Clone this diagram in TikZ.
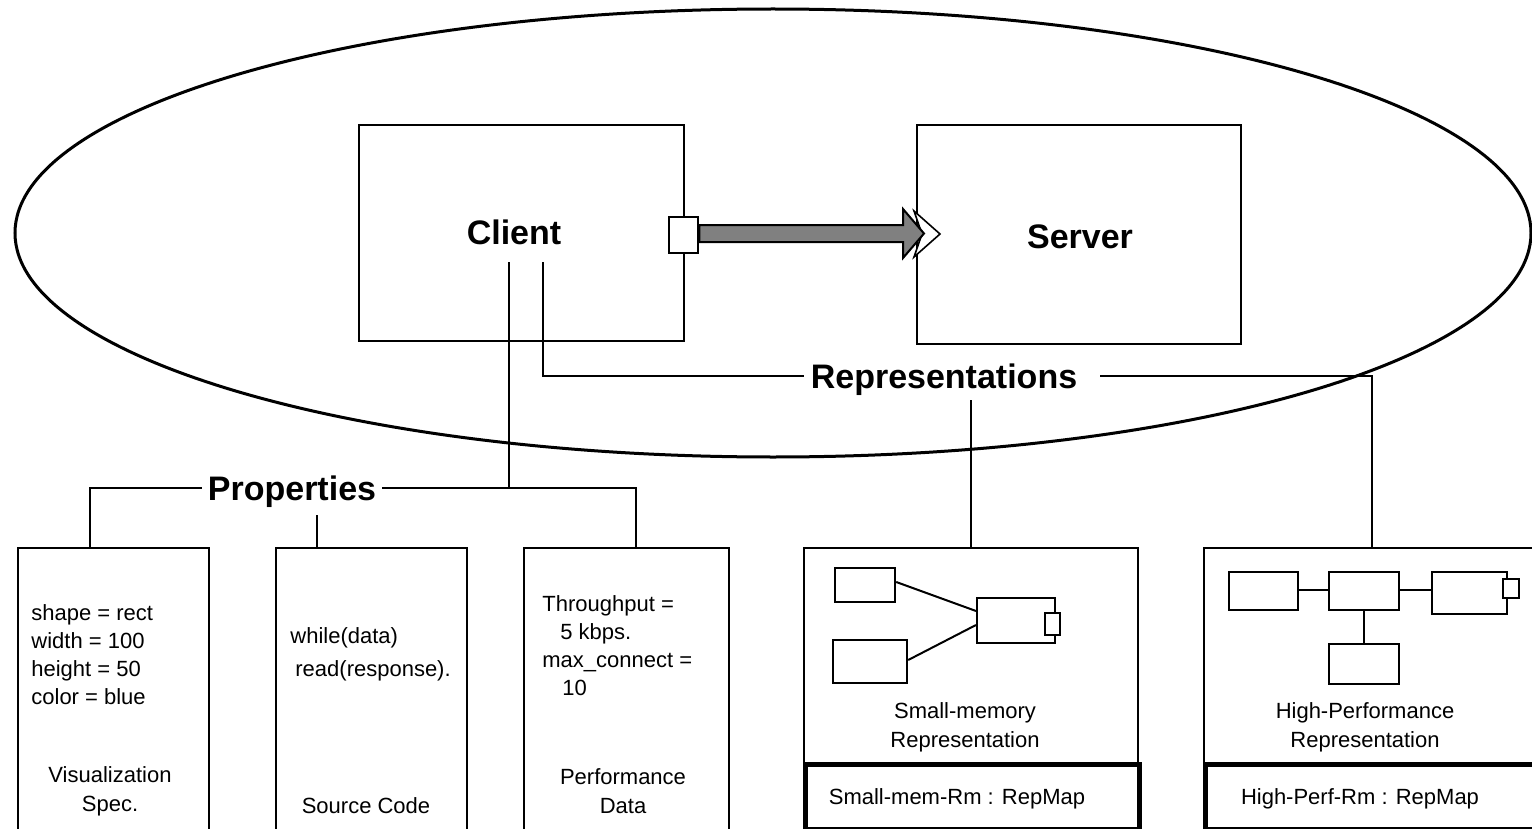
\documentclass[tikz,border=0pt]{standalone}
\usepackage{fontspec}
\setmainfont{Liberation Sans}
\begin{document}
\begin{tikzpicture}[x=0.5pt,y=-0.5pt,
  box/.style={draw,line width=1.2pt,inner sep=0pt,anchor=north west},
  mapbox/.style={draw,line width=2.4pt,inner sep=0pt,anchor=north west},
  mini/.style={draw,line width=1.1pt,inner sep=0pt,anchor=north west},
  wire/.style={line width=1pt},
  big/.style={font=\fontsize{17}{20}\selectfont\bfseries,inner sep=3pt},
  props/.style={font=\fontsize{11}{14}\selectfont,align=left,inner sep=0pt,anchor=north west},
  caption/.style={font=\fontsize{11}{14.5}\selectfont,align=center,inner sep=0pt}]
\useasboundingbox (0,0) rectangle (1532,829);
\clip (0,0) rectangle (1532,829);

% system boundary
\draw[line width=1.5pt] (773,233) ellipse [x radius=758, y radius=224];

% client and server components
\node[box,minimum width=162.5pt,minimum height=108pt] (clientbox) at (358,124) {};
\node[box,minimum width=162pt,minimum height=109.5pt] (serverbox) at (916,124) {};
\node[big] (client) at (514,232) {Client};
\node[big] (server) at (1080,237) {Server};

% connector from the client port to the server
\node[box,fill=white,minimum width=14.5pt,minimum height=18pt] (port) at (668,216) {};
\coordinate (chevtip) at (940,234);
\draw[line width=0.8pt,fill=white] (914,211) -- (chevtip) -- (914,257) -- (922,234) -- cycle;
\draw[line width=1pt,fill=gray] (port.east |- 0,225) -- (903,225) -- (903,209) -- (924,233.5)
  -- (903,258) -- (903,242) -- (port.east |- 0,242) -- cycle;

% property and representation labels
\node[big] (propl) at (292,492) {Properties};
\node[big,inner xsep=3pt] (repl) at (944,380) {Representations};
\coordinate (replend) at (1100,376);

\coordinate (cl1) at (509,262);
\coordinate (cl2) at (543,262);

% property boxes
\node[box,minimum width=95.5pt,minimum height=150pt] (vis) at (17,547) {};
\node[box,minimum width=95.5pt,minimum height=150pt] (src) at (275,547) {};
\node[box,minimum width=102.5pt,minimum height=150pt] (perf) at (523,547) {};

% representation boxes
\node[box,minimum width=167pt,minimum height=150pt] (smem) at (803,547) {};
\node[box,minimum width=171pt,minimum height=150pt] (hperf) at (1203,547) {};
\node[mapbox,minimum width=167pt,minimum height=32.5pt] (smap) at (803,762) {};
\node[mapbox,minimum width=171pt,minimum height=32.5pt] (hmap) at (1203,762) {};

% property bracket
\draw[wire] (cl1) -- (509,488);
\draw[wire] (vis.north west -| 90,0) -- (90,488) -- (propl.west |- 0,488);
\draw[wire] (propl.east |- 0,488) -- (636,488) -- (perf.north west -| 636,0);
\draw[wire] (317,515) -- (src.north west -| 317,0);

% representation bracket
\draw[wire] (cl2) -- (543,376) -- (repl.west |- 0,376);
\draw[wire] (replend) -- (1372,376) -- (hperf.north west -| 1372,0);
\draw[wire] (971,400) -- (smem.north west -| 971,0);

% property texts
\node[props] (vistxt) at (31,604) {shape = rect\\width = 100\\height = 50\\color = blue};
\node[caption] (viscap) at (110,791) {Visualization\\Spec.};
\node[props] (srctxt1) at (290,627) {while(data)};
\node[props] (srctxt2) at (295,660) {read(response).};
\node[caption] (srccap) at (366,806) {Source Code};
\node[props] (perftxt) at (542,595) {Throughput =\\\hspace*{9pt}5 kbps.\\max\_connect =\\\hspace*{10pt}10};
\node[caption] (perfcap) at (623,791) {Performance\\Data};

% small-memory representation
\node[mini,minimum width=30pt,minimum height=17pt] (m1) at (834,567) {};
\node[mini,minimum width=37pt,minimum height=21.5pt] (m2) at (832,639) {};
\node[mini,minimum width=39pt,minimum height=22.5pt] (m3) at (976,597) {};
\node[mini,fill=white,minimum width=7.5pt,minimum height=11pt] (m3p) at (1044,612) {};
\draw[wire] (m1.east |- 0,582) -- (m3.west |- 0,611);
\draw[wire] (m2.east |- 0,660) -- (m3.west |- 0,625);
\node[caption] (smemcap) at (965,727) {Small-memory\\Representation};
\node[caption] (smapcap) at (957,799) {Small-mem-Rm : RepMap};

% high-performance representation
\node[mini,minimum width=34.5pt,minimum height=19pt] (h1) at (1228,571) {};
\node[mini,minimum width=35pt,minimum height=19pt] (h2) at (1328,571) {};
\node[mini,minimum width=37.5pt,minimum height=21pt] (h3) at (1431,571) {};
\node[mini,fill=white,minimum width=8pt,minimum height=9.5pt] (h3p) at (1502,578) {};
\node[mini,minimum width=35pt,minimum height=20pt] (h4) at (1328,643) {};
\draw[wire] (h1.east |- 0,590) -- (h2.west |- 0,590);
\draw[wire] (h2.east |- 0,590) -- (h3.west |- 0,590);
\draw[wire] (h2.south) -- (h4.north);
\node[caption] (hperfcap) at (1365,727) {High-Performance\\Representation};
\node[caption] (hmapcap) at (1360,799) {High-Perf-Rm : RepMap};
\end{tikzpicture}
\end{document}
